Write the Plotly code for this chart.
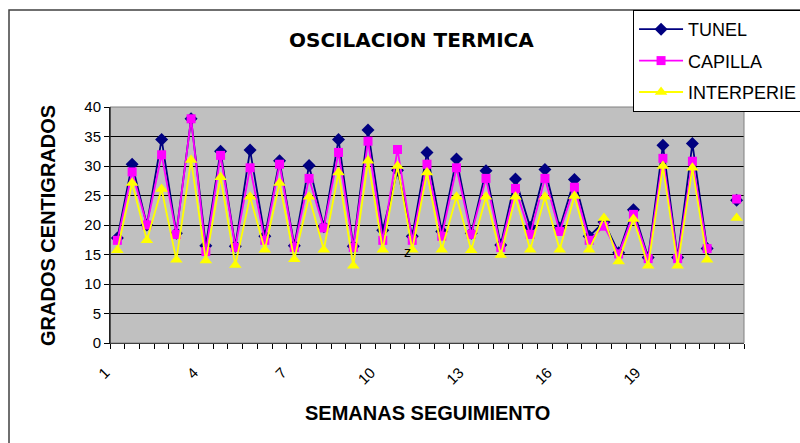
import plotly.graph_objects as go

# ---- data (43 half-week readings) ----
categorias = ["1", "", "2", "", "3", "", "4", "", "5", "", "6", "", "7", "", "8", "",
              "9", "", "10", "", "11", "", "12", "", "13", "", "14", "", "15", "", "16", "",
              "17", "", "18", "", "19", "", "20", "", "21", "", "22"]

tunel = [17.8, 30.3, 20.0, 34.5, 18.6, 38.0, 16.5, 32.5, 16.4, 32.7, 18.1, 30.9, 16.5, 30.1,
         19.7, 34.5, 16.4, 36.1, 19.1, 29.3, 18.1, 32.3, 18.9, 31.2, 18.6, 29.2, 16.6, 27.8,
         19.6, 29.4, 19.5, 27.7, 18.1, 20.5, 15.3, 22.6, 14.5, 33.5, 14.5, 33.8, 16.0, None, 24.2]

capilla = [17.4, 29.0, 20.0, 31.9, 18.4, 38.0, 15.5, 31.8, 16.2, 29.7, 17.4, 30.3, 16.2, 27.9,
           19.5, 32.3, 16.2, 34.2, 17.4, 32.8, 17.4, 30.3, 18.1, 29.7, 18.4, 27.9, 16.2, 26.2,
           18.4, 27.9, 18.9, 26.4, 17.4, 19.8, 15.1, 21.8, 14.3, 31.3, 14.3, 30.8, 16.0, None, 24.4]

interperie = [15.7, 27.1, 17.4, 26.1, 14.1, 31.0, 14.0, 28.1, 13.2, 24.8, 15.8, 27.1, 14.2, 24.8,
              15.8, 28.9, 13.1, 30.9, 15.8, 30.0, 15.8, 28.9, 15.8, 24.8, 15.7, 24.8, 14.9, 24.8,
              15.8, 24.8, 15.8, 24.9, 15.8, 21.2, 13.8, 21.0, 13.1, 30.0, 13.1, 29.7, 14.1, None, 21.2]

series_names = ["TUNEL", "CAPILLA", "INTERPERIE"]
titulo = "OSCILACION TERMICA"
titulo_x = "SEMANAS SEGUIMIENTO"
titulo_y = "GRADOS CENTIGRADOS"

x = list(range(len(categorias)))
label_idx = [i for i in x if i % 6 == 0 and i <= 36]

FONT = "Liberation Sans"

fig = go.Figure()
styles = [
    (tunel, "#000080", "diamond", 10),
    (capilla, "#FF00FF", "square", 9),
    (interperie, "#FFFF00", "triangle-up", 11),
]
for name, (vals, col, sym, sz) in zip(series_names, styles):
    fig.add_trace(go.Scatter(
        x=x, y=vals, name=name, mode="lines+markers", legendgroup=name,
        line=dict(color=col, width=1.8),
        marker=dict(color=col, symbol=sym, size=sz, line=dict(width=0)),
        connectgaps=False,
    ))

fig.update_layout(
    width=800, height=443,
    margin=dict(l=110, r=56, t=107, b=100, autoexpand=False),
    paper_bgcolor="white", plot_bgcolor="#C0C0C0",
    font=dict(family=FONT, color="black"),
    showlegend=True,
    legend=dict(x=0.825, y=1.411, xanchor="left", yanchor="top",
                bgcolor="white", bordercolor="black", borderwidth=1,
                font=dict(size=18, family=FONT), tracegroupgap=5,
                itemwidth=44, traceorder="grouped"),
    xaxis=dict(range=[-0.5, 42.5], showgrid=False, zeroline=False,
               showline=True, linecolor="black", linewidth=1,
               tickmode="array", tickvals=label_idx,
               ticktext=[categorias[i] for i in label_idx],
               tickangle=-45, ticks="", tickfont=dict(size=15),
               ticklabelstandoff=14, ticklabelshift=-12,
               minor=dict(tickmode="array", tickvals=[i - 0.5 for i in range(len(categorias) + 1)],
                          ticks="outside", ticklen=5, tickcolor="black", tickwidth=1,
                          showgrid=False)),
    yaxis=dict(range=[0, 40], tickmode="linear", tick0=0, dtick=5,
               showgrid=True, gridcolor="black", gridwidth=1, zeroline=False,
               showline=True, linecolor="black", linewidth=1,
               ticks="outside", ticklen=5, tickcolor="black",
               tickfont=dict(size=15)),
    shapes=[
        dict(type="rect", xref="paper", yref="paper", x0=0, x1=1, y0=0, y1=1,
             line=dict(color="#808080", width=1), layer="above"),
        dict(type="line", xref="paper", yref="paper", x0=0, x1=0, y0=0, y1=1,
             line=dict(color="black", width=1), layer="above"),
        dict(type="rect", xref="paper", yref="paper", x0=-0.1593, x1=1.15, y0=-0.6, y1=1.411,
             line=dict(color="#404040", width=1.5), layer="above"),
    ],
    annotations=[
        dict(text="<b>" + titulo + "</b>", xref="paper", yref="paper", x=0.475, y=1.284,
             xanchor="center", yanchor="middle", showarrow=False,
             font=dict(size=20, family="DejaVu Sans")),
        dict(text="<b>" + titulo_x + "</b>", xref="paper", yref="paper", x=0.5, y=-0.297,
             xanchor="center", yanchor="middle", showarrow=False,
             font=dict(size=20, family=FONT)),
        dict(text="<b>" + titulo_y + "</b>", xref="paper", yref="paper", x=-0.0978, y=0.5,
             xanchor="center", yanchor="middle", showarrow=False, textangle=-90,
             font=dict(size=20, family=FONT)),
        dict(text="z", xref="x", yref="y", x=19.65, y=15.4, showarrow=False,
             font=dict(size=14, family=FONT)),
    ],
)

fig.write_html("out.html")
